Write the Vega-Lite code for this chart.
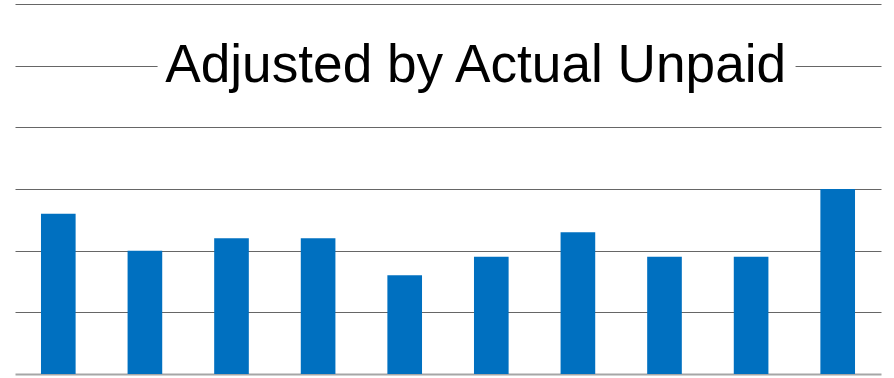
{
  "$schema": "https://vega.github.io/schema/vega-lite/v6.json",
  "width": 866,
  "height": 370,
  "autosize": {"type": "none"},
  "padding": {"left": 15, "top": 4, "right": 13, "bottom": 4},
  "background": "#ffffff",
  "config": {"view": {"stroke": null}},
  "datasets": {
    "bars": [
      {"category": "1", "value": 2.6},
      {"category": "2", "value": 2.0},
      {"category": "3", "value": 2.2},
      {"category": "4", "value": 2.2},
      {"category": "5", "value": 1.6},
      {"category": "6", "value": 1.9},
      {"category": "7", "value": 2.3},
      {"category": "8", "value": 1.9},
      {"category": "9", "value": 1.9},
      {"category": "10", "value": 3.0}
    ],
    "title": [
      {"label": "Adjusted by Actual Unpaid", "pos": 0.532, "level": 5}
    ]
  },
  "layer": [
    {
      "data": {"name": "bars"},
      "mark": {"type": "bar", "color": "#0070C0"},
      "encoding": {
        "x": {
          "field": "category",
          "type": "nominal",
          "sort": null,
          "scale": {"paddingInner": 0.6, "paddingOuter": 0.3},
          "axis": {"domain": true, "domainColor": "#a6a6a6", "domainWidth": 2, "ticks": false, "labels": false, "title": null, "grid": false}
        },
        "y": {
          "field": "value",
          "type": "quantitative",
          "scale": {"domain": [0, 6], "nice": false},
          "axis": {"values": [1, 2, 3, 4, 5, 6], "grid": true, "gridColor": "#666666", "gridWidth": 1, "domain": false, "ticks": false, "labels": false, "title": null}
        }
      }
    },
    {
      "data": {"name": "title"},
      "mark": {"type": "text", "font": "Liberation Sans", "fontSize": 53.2, "align": "center", "baseline": "middle", "fill": "#ffffff", "stroke": "#ffffff", "strokeWidth": 26, "strokeJoin": "round"},
      "encoding": {
        "x": {"field": "pos", "type": "quantitative", "scale": {"domain": [0, 1], "nice": false, "zero": false}, "axis": null},
        "y": {"field": "level", "type": "quantitative"},
        "text": {"field": "label"}
      }
    },
    {
      "data": {"name": "title"},
      "mark": {"type": "text", "font": "Liberation Sans", "fontSize": 53.2, "align": "center", "baseline": "middle", "color": "#000000"},
      "encoding": {
        "x": {"field": "pos", "type": "quantitative", "scale": {"domain": [0, 1], "nice": false, "zero": false}, "axis": null},
        "y": {"field": "level", "type": "quantitative"},
        "text": {"field": "label"}
      }
    }
  ],
  "resolve": {"scale": {"x": "independent"}}
}
